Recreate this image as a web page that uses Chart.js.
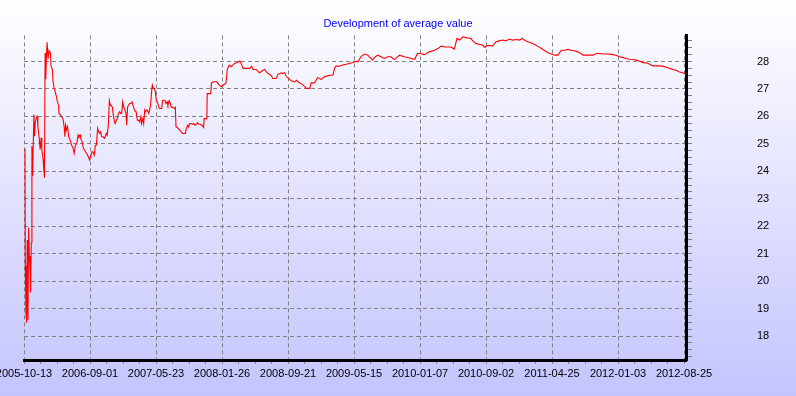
<!DOCTYPE html>
<html>
<head>
<meta charset="utf-8">
<title>Development of average value</title>
<script src="https://cdn.jsdelivr.net/npm/chart.js@4.4.1/dist/chart.umd.min.js"></script>
<style>
  html, body { margin: 0; padding: 0; }
  #wrap {
    width: 796px;
    height: 396px;
    background: linear-gradient(to bottom, #ffffff 0%, #c4c4ff 100%);
  }
  canvas { display: block; }
</style>
</head>
<body>
<div id="wrap"><canvas id="avgChart" width="796" height="396"></canvas></div>
<script>
// Labels under the x axis, one every 10 position units
const tickLabels = ['2005-10-13', '2006-09-01', '2007-05-23', '2008-01-26', '2008-09-21',
    '2009-05-15', '2010-01-07', '2010-09-02', '2011-04-25', '2012-01-03', '2012-08-25'];

// Sample positions along the x axis (label index * 10)
const xPos = [
    0.15, 0.2, 0.3, 0.4, 0.5, 0.6, 0.7, 0.8, 0.9, 1.0,
    1.1, 1.2, 1.3, 1.5, 1.6, 1.7, 1.85, 2.0, 2.1, 2.3,
    2.45, 2.6, 2.7, 2.9, 3.0, 3.1, 3.2, 3.3, 3.4, 3.5,
    3.65, 3.8, 4.0, 4.1, 4.3, 4.4, 4.55, 4.7, 4.9, 5.05,
    5.25, 5.3, 5.56, 5.7, 5.9, 6.06, 6.2, 6.3, 6.46, 6.6,
    6.77, 6.9, 7.07, 7.2, 7.4, 7.6, 7.8, 8.0, 8.2, 8.3,
    8.5, 8.6, 8.8, 9.0, 9.2, 9.3, 9.5, 9.75, 9.95, 10.15,
    10.3, 10.45, 10.66, 10.8, 10.96, 11.16, 11.3, 11.46, 11.6, 11.77,
    11.97, 12.17, 12.3, 12.47, 12.6, 12.78, 12.93, 13.08, 13.2, 13.4,
    13.5, 13.7, 13.8, 14.0, 14.14, 14.3, 14.5, 14.65, 14.8, 14.95,
    15.1, 15.3, 15.45, 15.56, 15.7, 15.86, 16.0, 16.2, 16.36, 16.5,
    16.67, 16.87, 17.0, 17.17, 17.37, 17.5, 17.7, 17.8, 18.0, 18.13,
    18.3, 18.4, 18.6, 18.7, 18.9, 19.04, 19.2, 19.3, 19.44, 19.6,
    19.75, 19.9, 20.05, 20.2, 20.35, 20.5, 20.66, 20.86, 21.0, 21.16,
    21.36, 21.5, 21.67, 21.8, 22.0, 22.17, 22.3, 22.47, 22.6, 22.78,
    22.93, 23.03, 23.23, 23.43, 23.6, 23.8, 24.04, 24.24, 24.44, 24.6,
    24.8, 24.95, 25.1, 25.3, 25.5, 25.7, 25.9, 26.1, 26.3, 26.46,
    26.9, 27.2, 27.3, 27.7, 27.76, 28.3, 28.4, 28.7, 29.2, 29.6,
    29.9, 30.6, 30.8, 31.1, 31.4, 31.9, 32.3, 32.7, 32.9, 33.2,
    33.7, 34.2, 34.5, 34.7, 35.2, 35.5, 35.7, 36.2, 36.5, 36.7,
    37.0, 37.2, 37.5, 37.7, 38.2, 38.5, 39.0, 39.2, 39.5, 39.7,
    40.3, 40.5, 41.0, 41.3, 41.5, 41.8, 42.3, 42.8, 43.3, 43.5,
    44.0, 44.5, 45.0, 45.5, 46.3, 46.8, 47.1, 47.3, 47.8, 48.3,
    48.8, 49.3, 49.8, 50.1, 50.3, 50.6, 50.8, 51.1, 51.6, 52.1,
    52.3, 52.6, 52.8, 53.2, 53.6, 54.1, 54.6, 55.1, 55.6, 56.1,
    56.6, 56.9, 57.6, 58.4, 59.2, 59.6, 60.0, 60.7, 61.4, 62.2,
    62.7, 63.2, 63.9, 64.7, 65.2, 65.6, 66.0, 66.5, 67.0, 67.7,
    68.0, 68.5, 69.0, 69.5, 69.8, 70.0, 70.5, 71.0, 71.5, 72.0,
    72.5, 73.0, 73.5, 74.1, 74.6, 75.1, 75.5, 75.8, 76.3, 76.8,
    77.3, 77.8, 78.4, 78.9, 79.4, 79.9, 80.4, 80.9, 81.4, 81.9,
    82.4, 82.9, 83.4, 83.9, 84.4, 84.7, 85.7, 86.2, 86.7, 87.2,
    87.7, 88.7, 89.2, 89.7, 90.2, 90.7, 91.2, 91.7, 92.3, 92.8,
    93.3, 93.8, 94.3, 94.8, 95.3, 96.3, 96.8, 97.3, 97.8, 98.3,
    98.8, 99.3, 99.8, 100.3
];

// Average value at each position
const avgValue = [
    24.82, 20.56, 18.86, 18.49, 21.5, 18.6, 21.95, 20.92, 20.5, 19.59,
    21.4, 24.92, 23.83, 26.07, 25.28, 25.77, 25.95, 26.0, 25.65, 25.22,
    24.8, 25.22, 24.8, 24.44, 24.07, 23.77, 28.31, 27.35, 28.2, 28.7,
    28.1, 28.4, 28.31, 27.83, 27.71, 27.28, 27.04, 26.92, 26.74, 26.56,
    26.38, 26.11, 26.05, 25.99, 25.92, 25.68, 25.26, 25.68, 25.50, 25.62,
    25.26, 25.20, 25.08, 24.95, 24.89, 24.65, 24.95, 25.01, 25.32, 25.26,
    25.32, 25.20, 25.08, 24.83, 24.77, 24.71, 24.65, 24.53, 24.41, 24.59,
    24.71, 24.71, 24.59, 24.95, 24.95, 25.56, 25.44, 25.38, 25.44, 25.26,
    25.26, 25.20, 25.26, 25.38, 25.32, 25.68, 26.57, 26.41, 26.41, 26.33,
    26.11, 25.80, 25.74, 25.86, 25.92, 26.11, 26.17, 26.11, 26.11, 26.53,
    26.35, 26.23, 26.11, 25.68, 26.35, 26.41, 26.47, 26.47, 26.53, 26.41,
    26.29, 26.17, 26.17, 25.86, 25.86, 25.80, 25.99, 25.74, 25.92, 25.74,
    26.23, 26.17, 26.23, 26.23, 26.11, 26.23, 26.47, 26.83, 27.14, 27.02,
    27.02, 26.90, 26.59, 26.53, 26.41, 26.29, 26.29, 26.29, 26.59, 26.59,
    26.59, 26.47, 26.53, 26.41, 26.57, 26.47, 26.35, 26.33, 26.33, 26.29,
    26.33, 25.62, 25.60, 25.54, 25.50, 25.44, 25.38, 25.38, 25.38, 25.56,
    25.68, 25.62, 25.74, 25.74, 25.71, 25.74, 25.68, 25.71, 25.77, 25.72,
    25.70, 25.60, 25.92, 25.92, 26.83, 26.83, 27.22, 27.26, 27.26, 27.14,
    27.08, 27.22, 27.71, 27.87, 27.81, 27.93, 27.96, 28.02, 27.93, 27.75,
    27.75, 27.75, 27.83, 27.71, 27.71, 27.62, 27.59, 27.68, 27.71, 27.62,
    27.56, 27.54, 27.47, 27.38, 27.38, 27.54, 27.59, 27.56, 27.59, 27.47,
    27.34, 27.30, 27.26, 27.32, 27.26, 27.22, 27.14, 27.02, 27.02, 27.22,
    27.22, 27.42, 27.34, 27.44, 27.50, 27.50, 27.78, 27.83, 27.83, 27.87,
    27.90, 27.93, 27.96, 27.99, 28.01, 27.99, 28.07, 28.19, 28.27, 28.23,
    28.17, 28.11, 28.05, 28.17, 28.23, 28.17, 28.11, 28.17, 28.17, 28.07,
    28.17, 28.23, 28.17, 28.13, 28.08, 28.29, 28.29, 28.25, 28.35, 28.41,
    28.47, 28.56, 28.53, 28.53, 28.45, 28.84, 28.78, 28.90, 28.87, 28.84,
    28.75, 28.65, 28.63, 28.59, 28.51, 28.56, 28.59, 28.56, 28.72, 28.75,
    28.78, 28.75, 28.81, 28.78, 28.80, 28.78, 28.84, 28.78, 28.72, 28.68,
    28.63, 28.56, 28.47, 28.39, 28.32, 28.27, 28.23, 28.23, 28.41, 28.41,
    28.44, 28.41, 28.39, 28.35, 28.29, 28.23, 28.23, 28.23, 28.29, 28.29,
    28.27, 28.27, 28.25, 28.23, 28.17, 28.15, 28.11, 28.08, 28.07, 28.05,
    28.01, 27.96, 27.95, 27.90, 27.84, 27.84, 27.83, 27.79, 27.75, 27.71,
    27.68, 27.62, 27.59, 27.54
];

// Axis ranges
const X_MAX = 100.3;
const Y_MIN = 17.13;
const Y_MAX = 28.95;

const GRID_COLOR = '#808080';

function isWhole(v, step) {
    return Math.abs(v / step - Math.round(v / step)) < 1e-6;
}

function initChart() {
    Chart.defaults.font.family = "'Liberation Sans', Arial, sans-serif";
    Chart.defaults.color = '#000000';

    const points = xPos.map((x, i) => ({ x: x, y: avgValue[i] }));

    const ctx = document.getElementById('avgChart').getContext('2d');
    new Chart(ctx, {
        type: 'line',
        data: {
            datasets: [{
                label: 'Average value',
                data: points,
                borderColor: '#ff0000',
                borderWidth: 1.1,
                pointRadius: 0,
                tension: 0
            }]
        },
        options: {
            responsive: false,
            animation: false,
            layout: { padding: { left: 0, right: 0, top: 0, bottom: 12.8 } },
            plugins: {
                legend: { display: false },
                tooltip: { enabled: false },
                title: {
                    display: true,
                    text: 'Development of average value',
                    color: '#0000ff',
                    font: { size: 11, weight: 'normal' },
                    padding: { top: 17, bottom: 5.2 }
                }
            },
            scales: {
                x: {
                    type: 'linear',
                    min: 0,
                    max: X_MAX,
                    grid: {
                        color: c => isWhole(c.tick.value, 10) ? GRID_COLOR : 'rgba(0,0,0,0)',
                        tickColor: GRID_COLOR,
                        tickLength: 4
                    },
                    border: { color: '#000000', width: 3, dash: [4, 3] },
                    ticks: {
                        stepSize: 2.5,
                        includeBounds: false,
                        autoSkip: false,
                        maxRotation: 0,
                        padding: 3,
                        font: { size: 11 },
                        callback: v => isWhole(v, 10) ? tickLabels[Math.round(v / 10)] : ''
                    },
                    // let the first/last date labels run past the plot edges
                    afterFit: s => { s.paddingLeft = 0; s.paddingRight = 0; }
                },
                y: {
                    position: 'right',
                    min: Y_MIN,
                    max: Y_MAX,
                    grid: {
                        color: c => isWhole(c.tick.value, 1) ? GRID_COLOR : 'rgba(0,0,0,0)',
                        tickColor: GRID_COLOR,
                        tickLength: 6
                    },
                    border: { color: '#000000', width: 3, dash: [4, 3] },
                    ticks: {
                        stepSize: 0.25,
                        includeBounds: false,
                        autoSkip: false,
                        padding: 65,
                        font: { size: 11 },
                        callback: v => isWhole(v, 1) ? String(Math.round(v)) : ''
                    },
                    afterFit: s => { s.paddingTop = 0; s.paddingBottom = 0; s.width = 110; }
                },
                // empty left margin box, keeps the title centred on the whole canvas
                leftPad: {
                    position: 'left',
                    grid: { display: false },
                    border: { display: false },
                    ticks: { display: false },
                    afterFit: s => { s.width = 24; }
                }
            }
        }
    });
}

document.addEventListener('DOMContentLoaded', initChart);
</script>
</body>
</html>
